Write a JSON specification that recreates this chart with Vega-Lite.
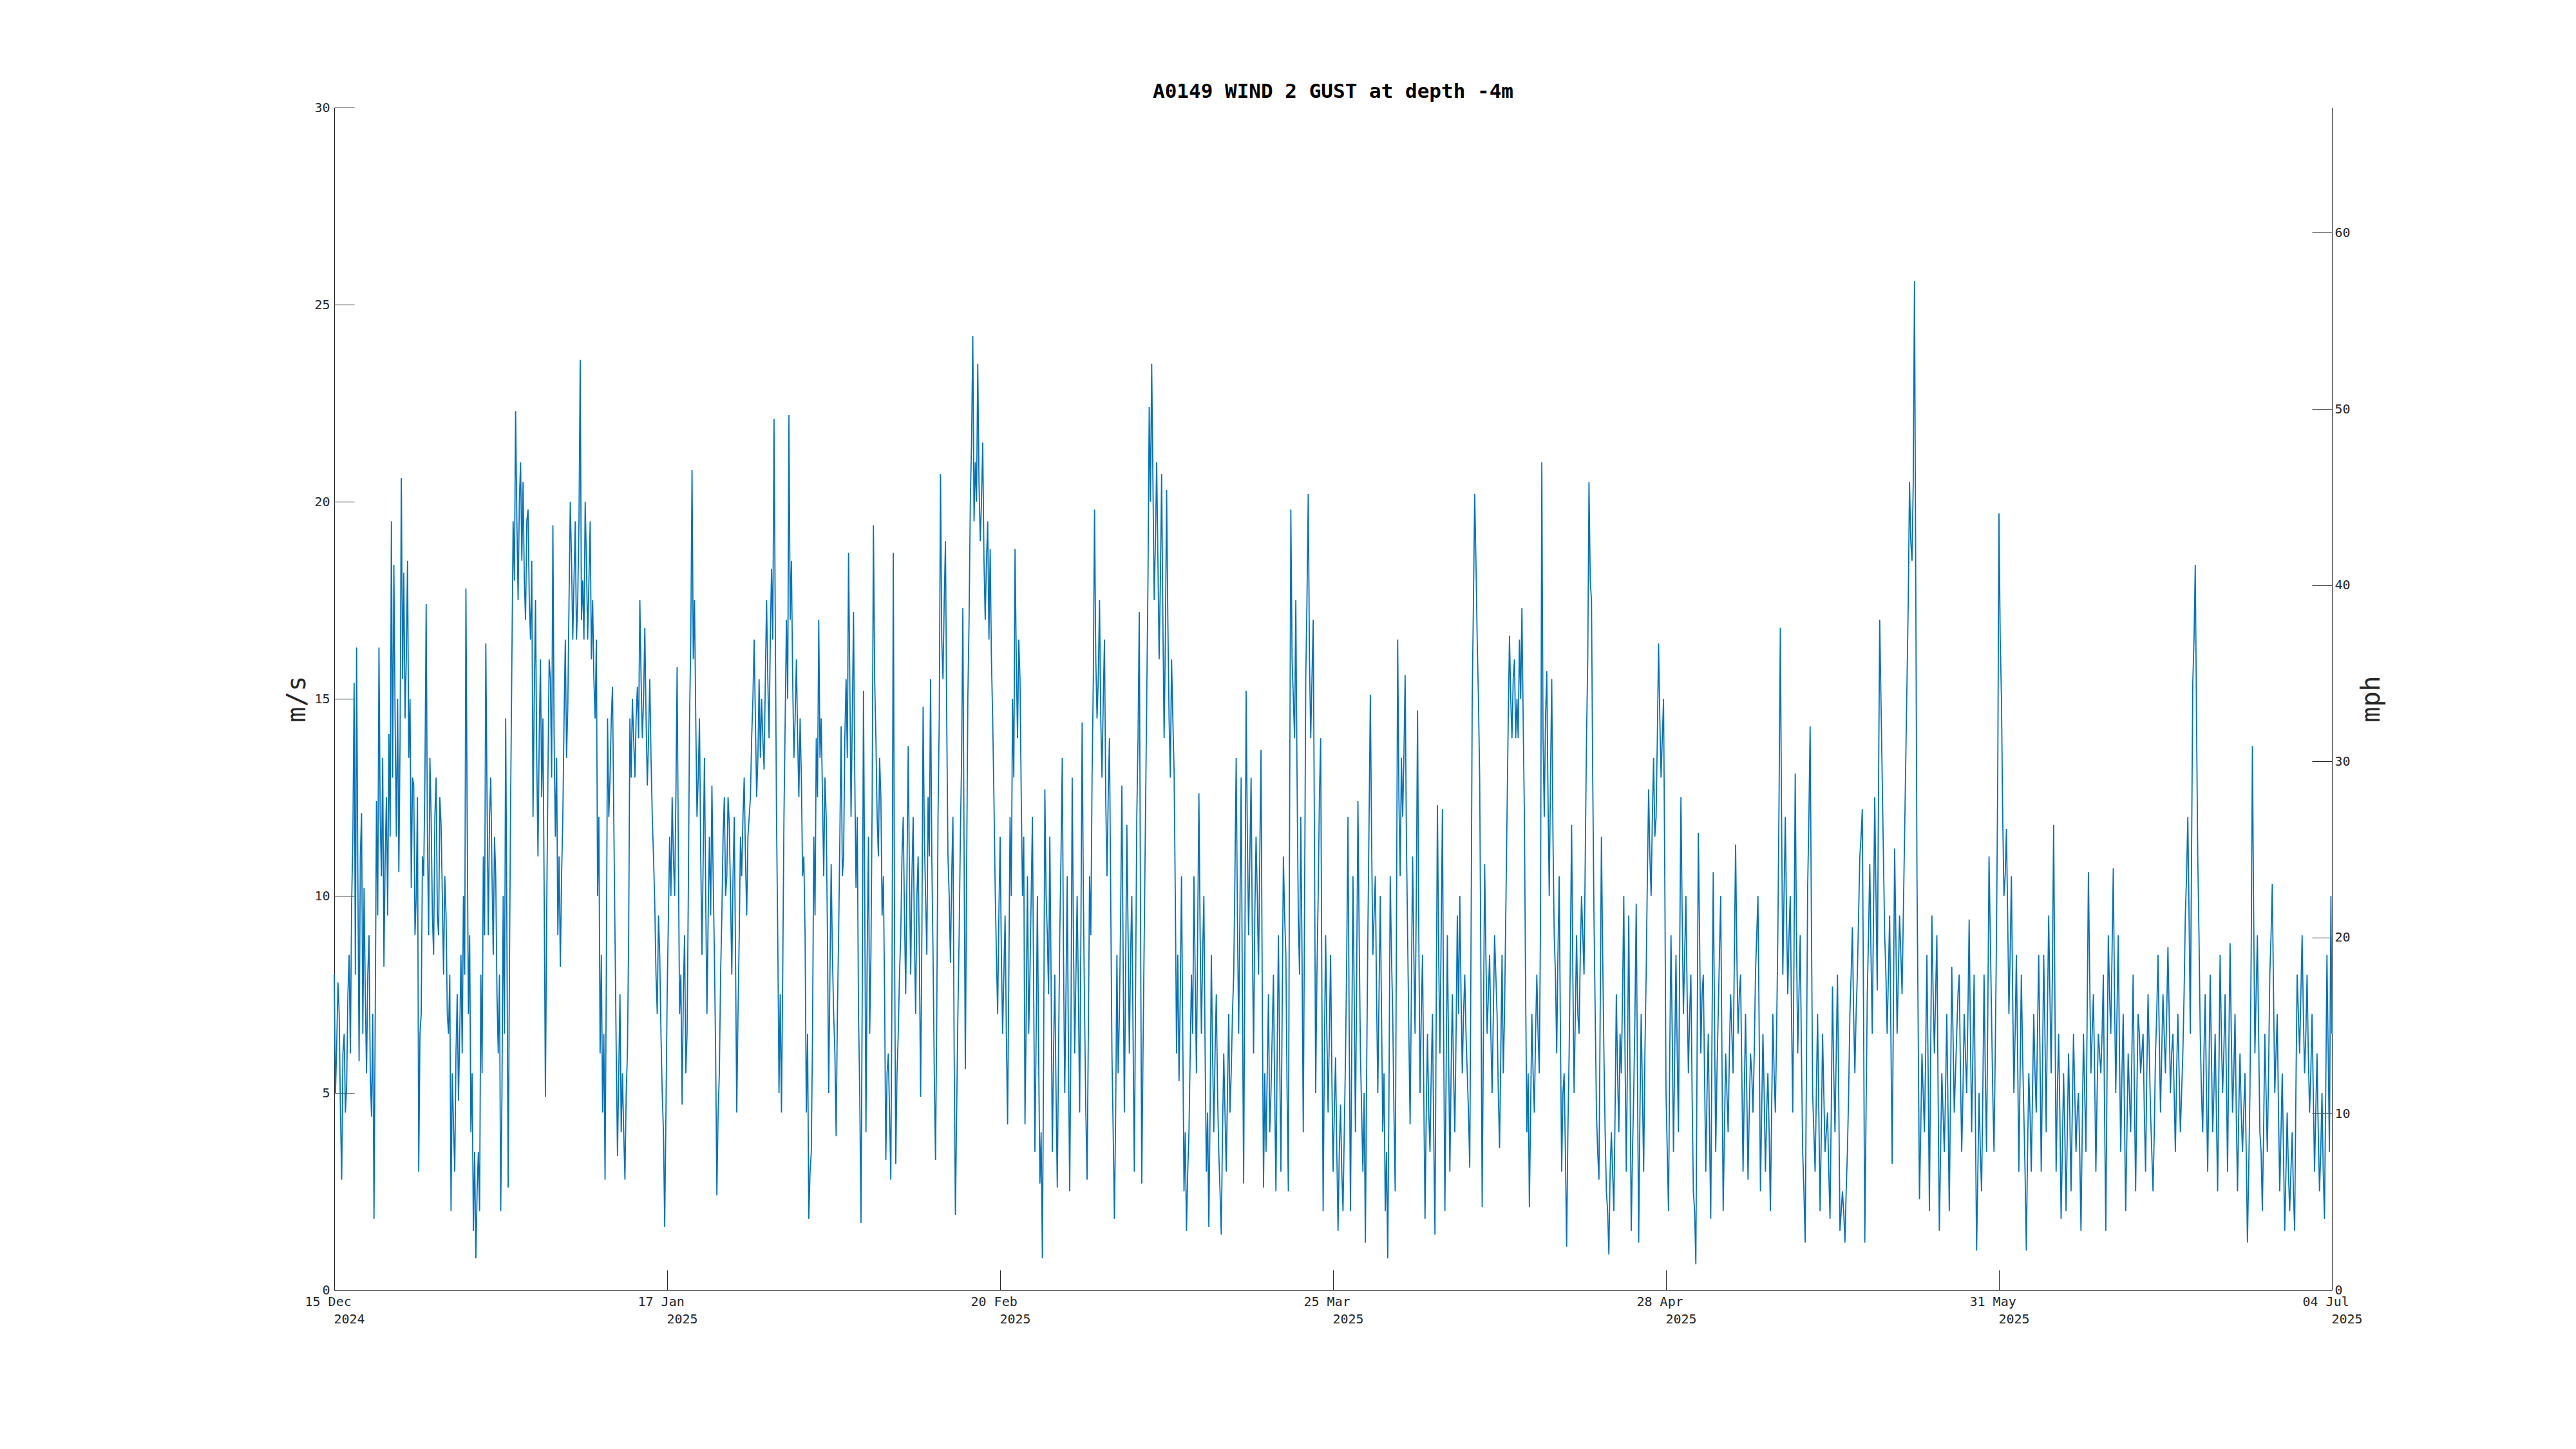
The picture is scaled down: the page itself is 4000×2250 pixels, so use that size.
{
"$schema":"https://vega.github.io/schema/vega-lite/v6.json",
"width":3102,"height":1836,
"autosize":{"type":"none"},
"padding":{"left":519,"top":167,"right":379,"bottom":247},
"background":"white",
"title":{"text":"A0149 WIND 2 GUST at depth -4m","font":"DejaVu Sans Mono","fontSize":31,"fontWeight":"bold","color":"#000000","anchor":"middle","frame":"group","baseline":"alphabetic","offset":15,"dy":41},
"config":{"view":{"stroke":null},"axis":{"grid":false,"domainColor":"#262626","tickColor":"#262626","labelColor":"#262626","titleColor":"#262626","labelFont":"DejaVu Sans Mono","titleFont":"DejaVu Sans Mono","labelFontSize":20,"titleFontSize":40,"titleFontWeight":"normal","domainWidth":1,"tickWidth":1,"tickSize":-31,"labelFlush":false,"labelOverlap":false}},
"resolve":{"scale":{"y":"independent"}},
"layer":[
{"data":{"values":[
{"d":0,"v":8},{"d":0.25,"v":6.2},{"d":0.5,"v":7},{"d":0.75,"v":2.8},
{"d":1,"v":6.5},{"d":1.25,"v":5.2},{"d":1.5,"v":8.5},{"d":1.75,"v":9.8},
{"d":2,"v":15.4},{"d":2.25,"v":16.3},{"d":2.5,"v":5.8},{"d":2.75,"v":12.1},
{"d":3,"v":10.2},{"d":3.25,"v":5.5},{"d":3.5,"v":9},{"d":3.75,"v":4.4},
{"d":4,"v":1.8},{"d":4.25,"v":12.4},{"d":4.5,"v":16.3},{"d":4.75,"v":10.5},
{"d":5,"v":8.2},{"d":5.25,"v":12.5},{"d":5.5,"v":14.1},{"d":5.75,"v":19.5},
{"d":6,"v":18.4},{"d":6.25,"v":11.5},{"d":6.5,"v":10.6},{"d":6.75,"v":20.6},
{"d":7,"v":18.2},{"d":7.25,"v":16},{"d":7.5,"v":13.5},{"d":7.75,"v":10.2},
{"d":8,"v":12.8},{"d":8.25,"v":10},{"d":8.5,"v":3},{"d":8.75,"v":7},
{"d":9,"v":10.5},{"d":9.25,"v":17.4},{"d":9.5,"v":9},{"d":9.75,"v":12},
{"d":10,"v":8.5},{"d":10.25,"v":13},{"d":10.5,"v":9},{"d":10.75,"v":11.8},
{"d":11,"v":8},{"d":11.25,"v":9.5},{"d":11.5,"v":6.5},{"d":11.75,"v":2},
{"d":12,"v":4.2},{"d":12.25,"v":6},{"d":12.5,"v":4.8},{"d":12.75,"v":8.5},
{"d":13,"v":10},{"d":13.25,"v":17.8},{"d":13.5,"v":7},{"d":13.75,"v":4},
{"d":14,"v":1.5},{"d":14.25,"v":0.8},{"d":14.5,"v":3.5},{"d":14.75,"v":8},
{"d":15,"v":11},{"d":15.25,"v":16.4},{"d":15.5,"v":9},{"d":15.75,"v":13},
{"d":16,"v":8.5},{"d":16.25,"v":10.5},{"d":16.5,"v":6},{"d":16.75,"v":2},
{"d":17,"v":10},{"d":17.25,"v":14.5},{"d":17.5,"v":2.6},{"d":17.75,"v":12.5},
{"d":18,"v":19.5},{"d":18.25,"v":22.3},{"d":18.5,"v":17.5},{"d":18.75,"v":21},
{"d":19,"v":20.5},{"d":19.25,"v":17},{"d":19.5,"v":19.8},{"d":19.75,"v":16.5},
{"d":20,"v":12},{"d":20.25,"v":17.5},{"d":20.5,"v":11},{"d":20.75,"v":16},
{"d":21,"v":14.5},{"d":21.25,"v":4.9},{"d":21.5,"v":13},{"d":21.75,"v":15.5},
{"d":22,"v":19.4},{"d":22.25,"v":11.5},{"d":22.5,"v":9},{"d":22.75,"v":8.2},
{"d":23,"v":12},{"d":23.25,"v":16.5},{"d":23.5,"v":14.8},{"d":23.75,"v":20},
{"d":24,"v":16.5},{"d":24.25,"v":19.5},{"d":24.5,"v":17.5},{"d":24.75,"v":23.6},
{"d":25,"v":18},{"d":25.25,"v":20},{"d":25.5,"v":16.5},{"d":25.75,"v":19.5},
{"d":26,"v":17.5},{"d":26.25,"v":14.5},{"d":26.5,"v":10},{"d":26.75,"v":6},
{"d":27,"v":4.5},{"d":27.25,"v":2.8},{"d":27.5,"v":14.5},{"d":27.75,"v":13},
{"d":28,"v":15.3},{"d":28.25,"v":9},{"d":28.5,"v":3.4},{"d":28.75,"v":7.5},
{"d":29,"v":5.5},{"d":29.25,"v":2.8},{"d":29.5,"v":6},{"d":29.75,"v":14.5},
{"d":30,"v":15},{"d":30.25,"v":13},{"d":30.5,"v":15.3},{"d":30.75,"v":17.5},
{"d":31,"v":14},{"d":31.25,"v":16.8},{"d":31.5,"v":12.8},{"d":31.75,"v":15.5},
{"d":32,"v":12},{"d":32.25,"v":9.8},{"d":32.5,"v":7},{"d":32.75,"v":8.5},
{"d":33,"v":5},{"d":33.25,"v":1.6},{"d":33.5,"v":7.5},{"d":33.75,"v":11.5},
{"d":34,"v":12.5},{"d":34.25,"v":10},{"d":34.5,"v":15.8},{"d":34.75,"v":7},
{"d":35,"v":4.7},{"d":35.25,"v":9},{"d":35.5,"v":6.5},{"d":35.75,"v":14.5},
{"d":36,"v":20.8},{"d":36.25,"v":17.5},{"d":36.5,"v":12},{"d":36.75,"v":14.5},
{"d":37,"v":8.5},{"d":37.25,"v":13.5},{"d":37.5,"v":7},{"d":37.75,"v":11.5},
{"d":38,"v":12.8},{"d":38.25,"v":8.5},{"d":38.5,"v":2.4},{"d":38.75,"v":5.5},
{"d":39,"v":9.5},{"d":39.25,"v":12.5},{"d":39.5,"v":10.5},{"d":39.75,"v":11.8},
{"d":40,"v":8},{"d":40.25,"v":12},{"d":40.5,"v":4.5},{"d":40.75,"v":9},
{"d":41,"v":10.5},{"d":41.25,"v":13},{"d":41.5,"v":9.5},{"d":41.75,"v":12},
{"d":42,"v":14},{"d":42.25,"v":16.5},{"d":42.5,"v":12.5},{"d":42.75,"v":15.5},
{"d":43,"v":15},{"d":43.25,"v":13.2},{"d":43.5,"v":17.5},{"d":43.75,"v":14},
{"d":44,"v":18.3},{"d":44.25,"v":22.1},{"d":44.5,"v":12},{"d":44.75,"v":5},
{"d":45,"v":4.5},{"d":45.25,"v":12},{"d":45.5,"v":17},{"d":45.75,"v":22.2},
{"d":46,"v":18.5},{"d":46.25,"v":13.5},{"d":46.5,"v":16},{"d":46.75,"v":12.5},
{"d":47,"v":13},{"d":47.25,"v":11},{"d":47.5,"v":4.5},{"d":47.75,"v":1.8},
{"d":48,"v":3.5},{"d":48.25,"v":11.5},{"d":48.5,"v":14},{"d":48.75,"v":17},
{"d":49,"v":14.5},{"d":49.25,"v":10.5},{"d":49.5,"v":12},{"d":49.75,"v":5},
{"d":50,"v":10.8},{"d":50.25,"v":7},{"d":50.5,"v":3.9},{"d":50.75,"v":9},
{"d":51,"v":14.3},{"d":51.25,"v":11},{"d":51.5,"v":15.5},{"d":51.75,"v":18.7},
{"d":52,"v":12},{"d":52.25,"v":17.2},{"d":52.5,"v":10.2},{"d":52.75,"v":7},
{"d":53,"v":1.7},{"d":53.25,"v":15.2},{"d":53.5,"v":4},{"d":53.75,"v":11.5},
{"d":54,"v":8.5},{"d":54.25,"v":19.4},{"d":54.5,"v":14},{"d":54.75,"v":11},
{"d":55,"v":12.5},{"d":55.25,"v":10.5},{"d":55.5,"v":3.3},{"d":55.75,"v":6},
{"d":56,"v":2.8},{"d":56.25,"v":18.7},{"d":56.5,"v":3.2},{"d":56.75,"v":6.5},
{"d":57,"v":9},{"d":57.25,"v":12},{"d":57.5,"v":7.5},{"d":57.75,"v":13.8},
{"d":58,"v":8},{"d":58.25,"v":12},{"d":58.5,"v":7},{"d":58.75,"v":11},
{"d":59,"v":4.9},{"d":59.25,"v":14.8},{"d":59.5,"v":10},{"d":59.75,"v":12.5},
{"d":60,"v":15.5},{"d":60.25,"v":8.5},{"d":60.5,"v":3.3},{"d":60.75,"v":12},
{"d":61,"v":20.7},{"d":61.25,"v":15.5},{"d":61.5,"v":19},{"d":61.75,"v":11},
{"d":62,"v":8.3},{"d":62.25,"v":12},{"d":62.5,"v":1.9},{"d":62.75,"v":7},
{"d":63,"v":11.5},{"d":63.25,"v":17.3},{"d":63.5,"v":5.6},{"d":63.75,"v":15},
{"d":64,"v":20},{"d":64.25,"v":24.2},{"d":64.5,"v":21},{"d":64.75,"v":23.5},
{"d":65,"v":19},{"d":65.25,"v":21.5},{"d":65.5,"v":17},{"d":65.75,"v":19.5},
{"d":66,"v":18.8},{"d":66.25,"v":14.5},{"d":66.5,"v":10.2},{"d":66.75,"v":7},
{"d":67,"v":11.5},{"d":67.25,"v":6.5},{"d":67.5,"v":9.5},{"d":67.75,"v":4.2},
{"d":68,"v":12},{"d":68.25,"v":15},{"d":68.5,"v":18.8},{"d":68.75,"v":14},
{"d":69,"v":15.5},{"d":69.25,"v":10},{"d":69.5,"v":4.2},{"d":69.75,"v":10.5},
{"d":70,"v":8},{"d":70.25,"v":12},{"d":70.5,"v":3.5},{"d":70.75,"v":10},
{"d":71,"v":2.7},{"d":71.25,"v":0.8},{"d":71.5,"v":12.7},{"d":71.75,"v":9},
{"d":72,"v":11.5},{"d":72.25,"v":3.5},{"d":72.5,"v":8},{"d":72.75,"v":2.6},
{"d":73,"v":9},{"d":73.25,"v":13.5},{"d":73.5,"v":5},{"d":73.75,"v":10.5},
{"d":74,"v":2.5},{"d":74.25,"v":13},{"d":74.5,"v":6},{"d":74.75,"v":10},
{"d":75,"v":4.5},{"d":75.25,"v":14.4},{"d":75.5,"v":7},{"d":75.75,"v":2.8},
{"d":76,"v":10.5},{"d":76.25,"v":13},{"d":76.5,"v":19.8},{"d":76.75,"v":14.5},
{"d":77,"v":17.5},{"d":77.25,"v":13},{"d":77.5,"v":16.5},{"d":77.75,"v":10.5},
{"d":78,"v":14},{"d":78.25,"v":6},{"d":78.5,"v":1.8},{"d":78.75,"v":8.5},
{"d":79,"v":7},{"d":79.25,"v":12.8},{"d":79.5,"v":4.5},{"d":79.75,"v":11.8},
{"d":80,"v":6},{"d":80.25,"v":10},{"d":80.5,"v":3},{"d":80.75,"v":12},
{"d":81,"v":17.2},{"d":81.25,"v":2.7},{"d":81.5,"v":9},{"d":81.75,"v":15},
{"d":82,"v":22.4},{"d":82.25,"v":23.5},{"d":82.5,"v":17.5},{"d":82.75,"v":21},
{"d":83,"v":16},{"d":83.25,"v":20.7},{"d":83.5,"v":14},{"d":83.75,"v":20.3},
{"d":84,"v":14.5},{"d":84.25,"v":16},{"d":84.5,"v":13.2},{"d":84.75,"v":6},
{"d":85,"v":5.3},{"d":85.25,"v":10.5},{"d":85.5,"v":2.5},{"d":85.75,"v":1.5},
{"d":86,"v":4},{"d":86.25,"v":8},{"d":86.5,"v":10.5},{"d":86.75,"v":5.5},
{"d":87,"v":12.6},{"d":87.25,"v":6.5},{"d":87.5,"v":10},{"d":87.75,"v":3},
{"d":88,"v":1.6},{"d":88.25,"v":8.5},{"d":88.5,"v":4},{"d":88.75,"v":7.5},
{"d":89,"v":3.5},{"d":89.25,"v":1.4},{"d":89.5,"v":6},{"d":89.75,"v":3},
{"d":90,"v":7},{"d":90.25,"v":5.5},{"d":90.5,"v":8},{"d":90.75,"v":13.5},
{"d":91,"v":6.5},{"d":91.25,"v":13},{"d":91.5,"v":2.7},{"d":91.75,"v":15.2},
{"d":92,"v":9},{"d":92.25,"v":13},{"d":92.5,"v":6},{"d":92.75,"v":11.5},
{"d":93,"v":8},{"d":93.25,"v":13.7},{"d":93.5,"v":2.6},{"d":93.75,"v":3.5},
{"d":94,"v":7.5},{"d":94.25,"v":5},{"d":94.5,"v":8},{"d":94.75,"v":2.5},
{"d":95,"v":9},{"d":95.25,"v":3},{"d":95.5,"v":11},{"d":95.75,"v":8.5},
{"d":96,"v":2.5},{"d":96.25,"v":19.8},{"d":96.5,"v":15},{"d":96.75,"v":17.5},
{"d":97,"v":9.5},{"d":97.25,"v":12},{"d":97.5,"v":4},{"d":97.75,"v":15.5},
{"d":98,"v":20.2},{"d":98.25,"v":14},{"d":98.5,"v":17},{"d":98.75,"v":5},
{"d":99,"v":10},{"d":99.25,"v":14},{"d":99.5,"v":2},{"d":99.75,"v":9},
{"d":100,"v":4.5},{"d":100.25,"v":8.5},{"d":100.5,"v":3},{"d":100.75,"v":5.9},
{"d":101,"v":1.5},{"d":101.25,"v":4.7},{"d":101.5,"v":2},{"d":101.75,"v":5.9},
{"d":102,"v":12},{"d":102.25,"v":2},{"d":102.5,"v":10.5},{"d":102.75,"v":4},
{"d":103,"v":12.4},{"d":103.25,"v":6},{"d":103.5,"v":3},{"d":103.75,"v":1.2},
{"d":104,"v":9},{"d":104.25,"v":15.1},{"d":104.5,"v":8.5},{"d":104.75,"v":10.5},
{"d":105,"v":5},{"d":105.25,"v":10},{"d":105.5,"v":4},{"d":105.75,"v":2},
{"d":106,"v":0.8},{"d":106.25,"v":10.5},{"d":106.5,"v":7},{"d":106.75,"v":2.5},
{"d":107,"v":16.5},{"d":107.25,"v":10.5},{"d":107.5,"v":12},{"d":107.75,"v":15.6},
{"d":108,"v":9},{"d":108.25,"v":4.2},{"d":108.5,"v":11},{"d":108.75,"v":6.5},
{"d":109,"v":14.7},{"d":109.25,"v":5},{"d":109.5,"v":8.5},{"d":109.75,"v":1.8},
{"d":110,"v":6.5},{"d":110.25,"v":3.5},{"d":110.5,"v":7},{"d":110.75,"v":1.4},
{"d":111,"v":12.3},{"d":111.25,"v":6},{"d":111.5,"v":12.2},{"d":111.75,"v":2},
{"d":112,"v":9},{"d":112.25,"v":3},{"d":112.5,"v":7.5},{"d":112.75,"v":4},
{"d":113,"v":9.5},{"d":113.25,"v":10},{"d":113.5,"v":5.5},{"d":113.75,"v":8},
{"d":114,"v":5.5},{"d":114.25,"v":3.1},{"d":114.5,"v":15},{"d":114.75,"v":20.2},
{"d":115,"v":16.5},{"d":115.25,"v":13},{"d":115.5,"v":2.1},{"d":115.75,"v":10.8},
{"d":116,"v":6.5},{"d":116.25,"v":8.5},{"d":116.5,"v":5},{"d":116.75,"v":9},
{"d":117,"v":7},{"d":117.25,"v":3.6},{"d":117.5,"v":8.5},{"d":117.75,"v":7},
{"d":118,"v":12},{"d":118.25,"v":16.6},{"d":118.5,"v":14},{"d":118.75,"v":16},
{"d":119,"v":15},{"d":119.25,"v":16.5},{"d":119.5,"v":17.3},{"d":119.75,"v":12},
{"d":120,"v":4},{"d":120.25,"v":2.1},{"d":120.5,"v":7},{"d":120.75,"v":4.5},
{"d":121,"v":8},{"d":121.25,"v":5.5},{"d":121.5,"v":21},{"d":121.75,"v":12},
{"d":122,"v":15.7},{"d":122.25,"v":10},{"d":122.5,"v":15.5},{"d":122.75,"v":9},
{"d":123,"v":6},{"d":123.25,"v":10.5},{"d":123.5,"v":3},{"d":123.75,"v":5.5},
{"d":124,"v":1.1},{"d":124.25,"v":6},{"d":124.5,"v":11.8},{"d":124.75,"v":5},
{"d":125,"v":9},{"d":125.25,"v":6.5},{"d":125.5,"v":10},{"d":125.75,"v":8},
{"d":126,"v":14},{"d":126.25,"v":20.5},{"d":126.5,"v":17.5},{"d":126.75,"v":9.5},
{"d":127,"v":4.5},{"d":127.25,"v":2.8},{"d":127.5,"v":11.5},{"d":127.75,"v":6},
{"d":128,"v":2.5},{"d":128.25,"v":0.9},{"d":128.5,"v":4},{"d":128.75,"v":2},
{"d":129,"v":7.5},{"d":129.25,"v":4},{"d":129.5,"v":5.5},{"d":129.75,"v":10},
{"d":130,"v":3},{"d":130.25,"v":9.5},{"d":130.5,"v":1.5},{"d":130.75,"v":5},
{"d":131,"v":9.8},{"d":131.25,"v":1.2},{"d":131.5,"v":7},{"d":131.75,"v":3},
{"d":132,"v":8},{"d":132.25,"v":12.7},{"d":132.5,"v":10},{"d":132.75,"v":13.5},
{"d":133,"v":12},{"d":133.25,"v":16.4},{"d":133.5,"v":13},{"d":133.75,"v":15},
{"d":134,"v":5},{"d":134.25,"v":2},{"d":134.5,"v":9},{"d":134.75,"v":3.5},
{"d":135,"v":8.5},{"d":135.25,"v":4},{"d":135.5,"v":12.5},{"d":135.75,"v":7},
{"d":136,"v":10},{"d":136.25,"v":5.5},{"d":136.5,"v":8},{"d":136.75,"v":2.5},
{"d":137,"v":0.65},{"d":137.25,"v":11.6},{"d":137.5,"v":6},{"d":137.75,"v":8},
{"d":138,"v":3},{"d":138.25,"v":6.5},{"d":138.5,"v":1.8},{"d":138.75,"v":10.6},
{"d":139,"v":3.5},{"d":139.25,"v":7},{"d":139.5,"v":10},{"d":139.75,"v":2},
{"d":140,"v":6},{"d":140.25,"v":4},{"d":140.5,"v":7.5},{"d":140.75,"v":5.5},
{"d":141,"v":11.3},{"d":141.25,"v":6.5},{"d":141.5,"v":8},{"d":141.75,"v":3},
{"d":142,"v":7},{"d":142.25,"v":2.8},{"d":142.5,"v":6},{"d":142.75,"v":4.5},
{"d":143,"v":8},{"d":143.25,"v":10},{"d":143.5,"v":2.5},{"d":143.75,"v":6.5},
{"d":144,"v":3},{"d":144.25,"v":5.5},{"d":144.5,"v":2},{"d":144.75,"v":7},
{"d":145,"v":4.5},{"d":145.25,"v":9},{"d":145.5,"v":16.8},{"d":145.75,"v":8},
{"d":146,"v":12},{"d":146.25,"v":7.5},{"d":146.5,"v":10},{"d":146.75,"v":4.5},
{"d":147,"v":13.1},{"d":147.25,"v":6},{"d":147.5,"v":9},{"d":147.75,"v":3.5},
{"d":148,"v":1.2},{"d":148.25,"v":10.2},{"d":148.5,"v":14.3},{"d":148.75,"v":5},
{"d":149,"v":3},{"d":149.25,"v":7},{"d":149.5,"v":2},{"d":149.75,"v":6.5},
{"d":150,"v":3.5},{"d":150.25,"v":4.5},{"d":150.5,"v":1.8},{"d":150.75,"v":7.7},
{"d":151,"v":4},{"d":151.25,"v":8},{"d":151.5,"v":1.5},{"d":151.75,"v":2.5},
{"d":152,"v":1.2},{"d":152.25,"v":3.5},{"d":152.5,"v":7},{"d":152.75,"v":9.2},
{"d":153,"v":5.5},{"d":153.25,"v":8},{"d":153.5,"v":11},{"d":153.75,"v":12.2},
{"d":154,"v":1.2},{"d":154.25,"v":7.5},{"d":154.5,"v":10.8},{"d":154.75,"v":6.5},
{"d":155,"v":12.5},{"d":155.25,"v":7.6},{"d":155.5,"v":17},{"d":155.75,"v":13},
{"d":156,"v":9},{"d":156.25,"v":6.5},{"d":156.5,"v":9.5},{"d":156.75,"v":3.2},
{"d":157,"v":11.2},{"d":157.25,"v":6.5},{"d":157.5,"v":9.5},{"d":157.75,"v":7.5},
{"d":158,"v":11.5},{"d":158.25,"v":15.5},{"d":158.5,"v":20.5},{"d":158.75,"v":18.5},
{"d":159,"v":25.6},{"d":159.25,"v":10.5},{"d":159.5,"v":2.3},{"d":159.75,"v":6},
{"d":160,"v":4},{"d":160.25,"v":8.5},{"d":160.5,"v":2},{"d":160.75,"v":9.5},
{"d":161,"v":6},{"d":161.25,"v":9},{"d":161.5,"v":1.5},{"d":161.75,"v":5.5},
{"d":162,"v":3.5},{"d":162.25,"v":7},{"d":162.5,"v":2},{"d":162.75,"v":8.2},
{"d":163,"v":4.5},{"d":163.25,"v":6.5},{"d":163.5,"v":8},{"d":163.75,"v":3.5},
{"d":164,"v":7},{"d":164.25,"v":5},{"d":164.5,"v":9.4},{"d":164.75,"v":4},
{"d":165,"v":8},{"d":165.25,"v":1},{"d":165.5,"v":5},{"d":165.75,"v":2.5},
{"d":166,"v":8},{"d":166.25,"v":3.5},{"d":166.5,"v":11},{"d":166.75,"v":7},
{"d":167,"v":3.5},{"d":167.25,"v":9},{"d":167.5,"v":19.7},{"d":167.75,"v":15},
{"d":168,"v":10},{"d":168.25,"v":11.7},{"d":168.5,"v":7},{"d":168.75,"v":10.5},
{"d":169,"v":5},{"d":169.25,"v":8.5},{"d":169.5,"v":3},{"d":169.75,"v":8},
{"d":170,"v":4.5},{"d":170.25,"v":1},{"d":170.5,"v":5.5},{"d":170.75,"v":3},
{"d":171,"v":7},{"d":171.25,"v":4.5},{"d":171.5,"v":8.5},{"d":171.75,"v":3},
{"d":172,"v":8.5},{"d":172.25,"v":4},{"d":172.5,"v":9.5},{"d":172.75,"v":5.5},
{"d":173,"v":11.8},{"d":173.25,"v":3},{"d":173.5,"v":6.5},{"d":173.75,"v":1.8},
{"d":174,"v":5.5},{"d":174.25,"v":2},{"d":174.5,"v":6},{"d":174.75,"v":2.5},
{"d":175,"v":6.5},{"d":175.25,"v":3.5},{"d":175.5,"v":5},{"d":175.75,"v":1.5},
{"d":176,"v":6.5},{"d":176.25,"v":3.5},{"d":176.5,"v":10.6},{"d":176.75,"v":5.5},
{"d":177,"v":7.5},{"d":177.25,"v":3},{"d":177.5,"v":6.5},{"d":177.75,"v":5.5},
{"d":178,"v":8},{"d":178.25,"v":1.5},{"d":178.5,"v":9},{"d":178.75,"v":6.5},
{"d":179,"v":10.7},{"d":179.25,"v":5},{"d":179.5,"v":9},{"d":179.75,"v":3.5},
{"d":180,"v":7},{"d":180.25,"v":2},{"d":180.5,"v":6},{"d":180.75,"v":4},
{"d":181,"v":8},{"d":181.25,"v":2.5},{"d":181.5,"v":7},{"d":181.75,"v":5.5},
{"d":182,"v":6.5},{"d":182.25,"v":3},{"d":182.5,"v":7.5},{"d":182.75,"v":4.5},
{"d":183,"v":2.5},{"d":183.25,"v":6},{"d":183.5,"v":8.5},{"d":183.75,"v":4.5},
{"d":184,"v":7.5},{"d":184.25,"v":5.5},{"d":184.5,"v":8.7},{"d":184.75,"v":5},
{"d":185,"v":6.5},{"d":185.25,"v":3.5},{"d":185.5,"v":7},{"d":185.75,"v":4},
{"d":186,"v":6},{"d":186.25,"v":9.5},{"d":186.5,"v":12},{"d":186.75,"v":6.5},
{"d":187,"v":15.4},{"d":187.25,"v":18.4},{"d":187.5,"v":11},{"d":187.75,"v":6.5},
{"d":188,"v":4},{"d":188.25,"v":7.5},{"d":188.5,"v":3},{"d":188.75,"v":8},
{"d":189,"v":4},{"d":189.25,"v":6.5},{"d":189.5,"v":2.5},{"d":189.75,"v":8.5},
{"d":190,"v":5},{"d":190.25,"v":7.5},{"d":190.5,"v":3},{"d":190.75,"v":8.8},
{"d":191,"v":4.5},{"d":191.25,"v":7},{"d":191.5,"v":2.5},{"d":191.75,"v":6},
{"d":192,"v":3.5},{"d":192.25,"v":5.5},{"d":192.5,"v":1.2},{"d":192.75,"v":5},
{"d":193,"v":13.8},{"d":193.25,"v":6},{"d":193.5,"v":9},{"d":193.75,"v":4},
{"d":194,"v":2},{"d":194.25,"v":6.5},{"d":194.5,"v":3.5},{"d":194.75,"v":8},
{"d":195,"v":10.3},{"d":195.25,"v":5},{"d":195.5,"v":7},{"d":195.75,"v":2.5},
{"d":196,"v":5.5},{"d":196.25,"v":1.5},{"d":196.5,"v":4.5},{"d":196.75,"v":2},
{"d":197,"v":4},{"d":197.25,"v":1.5},{"d":197.5,"v":8},{"d":197.75,"v":6},
{"d":198,"v":9},{"d":198.25,"v":5.5},{"d":198.5,"v":8},{"d":198.75,"v":4.5},
{"d":199,"v":7},{"d":199.25,"v":3},{"d":199.5,"v":6},{"d":199.75,"v":2.5},
{"d":200,"v":5},{"d":200.25,"v":1.8},{"d":200.5,"v":8.5},{"d":200.75,"v":3.5},
{"d":200.9,"v":10},{"d":201,"v":6.5},
{"d":0.125,"v":5},{"d":0.375,"v":7.8},{"d":0.625,"v":4.5},{"d":0.875,"v":6},
{"d":1.125,"v":4.5},{"d":1.375,"v":7.5},{"d":1.625,"v":6},{"d":1.875,"v":11.5},
{"d":2.125,"v":8},{"d":2.375,"v":10.5},{"d":2.625,"v":11},{"d":2.875,"v":6.5},
{"d":3.125,"v":7.5},{"d":3.375,"v":8},{"d":3.625,"v":5.5},{"d":3.875,"v":7},
{"d":4.125,"v":7},{"d":4.375,"v":9.5},{"d":4.625,"v":12},{"d":4.875,"v":13.5},
{"d":5.125,"v":11},{"d":5.375,"v":9.5},{"d":5.625,"v":11.5},{"d":5.875,"v":13},
{"d":6.125,"v":14.5},{"d":6.375,"v":15},{"d":6.625,"v":14},{"d":6.875,"v":15.5},
{"d":7.125,"v":14.5},{"d":7.375,"v":18.5},{"d":7.625,"v":15},{"d":7.875,"v":13},
{"d":8.125,"v":9},{"d":8.375,"v":12.5},{"d":8.625,"v":6.5},{"d":8.875,"v":11},
{"d":9.125,"v":13},{"d":9.375,"v":11.5},{"d":9.625,"v":13.5},{"d":9.875,"v":9.5},
{"d":10.125,"v":12},{"d":10.375,"v":9.5},{"d":10.625,"v":12.5},{"d":10.875,"v":10},
{"d":11.125,"v":10.5},{"d":11.375,"v":7},{"d":11.625,"v":8},{"d":11.875,"v":5.5},
{"d":12.125,"v":3},{"d":12.375,"v":7.5},{"d":12.625,"v":6.5},{"d":12.875,"v":6},
{"d":13.125,"v":8},{"d":13.375,"v":12},{"d":13.625,"v":9},{"d":13.875,"v":5.5},
{"d":14.125,"v":3.5},{"d":14.375,"v":2.5},{"d":14.625,"v":2},{"d":14.875,"v":5.5},
{"d":15.125,"v":9},{"d":15.375,"v":12.5},{"d":15.625,"v":12},{"d":15.875,"v":10.5},
{"d":16.125,"v":11.5},{"d":16.375,"v":7.5},{"d":16.625,"v":8},{"d":16.875,"v":5},
{"d":17.125,"v":6.5},{"d":17.375,"v":9},{"d":17.625,"v":8},{"d":17.875,"v":16},
{"d":18.125,"v":18},{"d":18.375,"v":19.5},{"d":18.625,"v":20},{"d":18.875,"v":18.5},
{"d":19.125,"v":18},{"d":19.375,"v":19.5},{"d":19.625,"v":17.5},{"d":19.875,"v":18.5},
{"d":20.125,"v":15},{"d":20.375,"v":13.5},{"d":20.625,"v":14},{"d":20.875,"v":12.5},
{"d":21.125,"v":10},{"d":21.375,"v":9.5},{"d":21.625,"v":16},{"d":21.875,"v":13},
{"d":22.125,"v":14},{"d":22.375,"v":13.5},{"d":22.625,"v":11},{"d":22.875,"v":10.5},
{"d":23.125,"v":14.5},{"d":23.375,"v":13.5},{"d":23.625,"v":17.5},{"d":23.875,"v":18.5},
{"d":24.125,"v":18},{"d":24.375,"v":16.5},{"d":24.625,"v":19.5},{"d":24.875,"v":17},
{"d":25.125,"v":16.5},{"d":25.375,"v":18.5},{"d":25.625,"v":18},{"d":25.875,"v":16},
{"d":26.125,"v":15.5},{"d":26.375,"v":16.5},{"d":26.625,"v":12},{"d":26.875,"v":8.5},
{"d":27.125,"v":6.5},{"d":27.375,"v":8},{"d":27.625,"v":12},{"d":27.875,"v":14.5},
{"d":28.125,"v":12},{"d":28.375,"v":6},{"d":28.625,"v":5.5},{"d":28.875,"v":4},
{"d":29.125,"v":4},{"d":29.375,"v":5},{"d":29.625,"v":9},{"d":29.875,"v":13},
{"d":30.125,"v":14},{"d":30.375,"v":14.5},{"d":30.625,"v":14},{"d":30.875,"v":15.5},
{"d":31.125,"v":15},{"d":31.375,"v":14.5},{"d":31.625,"v":14},{"d":31.875,"v":13.5},
{"d":32.125,"v":11},{"d":32.375,"v":8},{"d":32.625,"v":9.5},{"d":32.875,"v":6.5},
{"d":33.125,"v":4},{"d":33.375,"v":4.5},{"d":33.625,"v":9.5},{"d":33.875,"v":10},
{"d":34.125,"v":11},{"d":34.375,"v":12.5},{"d":34.625,"v":11},{"d":34.875,"v":8},
{"d":35.125,"v":7.5},{"d":35.375,"v":5.5},{"d":35.625,"v":10},{"d":35.875,"v":16.5},
{"d":36.125,"v":16},{"d":36.375,"v":14.5},{"d":36.625,"v":13},{"d":36.875,"v":11},
{"d":37.125,"v":11},{"d":37.375,"v":10},{"d":37.625,"v":9.5},{"d":37.875,"v":9.5},
{"d":38.125,"v":10.5},{"d":38.375,"v":6},{"d":38.625,"v":4.5},{"d":38.875,"v":8},
{"d":39.125,"v":11.5},{"d":39.375,"v":10},{"d":39.625,"v":12.5},{"d":39.875,"v":10},
{"d":40.125,"v":10.5},{"d":40.375,"v":8.5},{"d":40.625,"v":7},{"d":40.875,"v":11.5},
{"d":41.125,"v":12},{"d":41.375,"v":11},{"d":41.625,"v":11.5},{"d":41.875,"v":12.5},
{"d":42.125,"v":15},{"d":42.375,"v":14.5},{"d":42.625,"v":13.5},{"d":42.875,"v":13.5},
{"d":43.125,"v":14},{"d":43.375,"v":15.5},{"d":43.625,"v":15.5},{"d":43.875,"v":16.5},
{"d":44.125,"v":16.5},{"d":44.375,"v":17},{"d":44.625,"v":9},{"d":44.875,"v":7.5},
{"d":45.125,"v":8},{"d":45.375,"v":14.5},{"d":45.625,"v":15},{"d":45.875,"v":17},
{"d":46.125,"v":15.5},{"d":46.375,"v":14.5},{"d":46.625,"v":14},{"d":46.875,"v":14.5},
{"d":47.125,"v":10.5},{"d":47.375,"v":9},{"d":47.625,"v":6.5},{"d":47.875,"v":3},
{"d":48.125,"v":6.5},{"d":48.375,"v":9.5},{"d":48.625,"v":12.5},{"d":48.875,"v":13.5},
{"d":49.125,"v":12.5},{"d":49.375,"v":13},{"d":49.625,"v":9},{"d":49.875,"v":8},
{"d":50.125,"v":8.5},{"d":50.375,"v":6},{"d":50.625,"v":7},{"d":50.875,"v":11.5},
{"d":51.125,"v":10.5},{"d":51.375,"v":14},{"d":51.625,"v":13.5},{"d":51.875,"v":15.5},
{"d":52.125,"v":14.5},{"d":52.375,"v":13},{"d":52.625,"v":12},{"d":52.875,"v":5},
{"d":53.125,"v":7.5},{"d":53.375,"v":10},{"d":53.625,"v":8.5},{"d":53.875,"v":6.5},
{"d":54.125,"v":12.5},{"d":54.375,"v":15.5},{"d":54.625,"v":12},{"d":54.875,"v":13.5},
{"d":55.125,"v":9.5},{"d":55.375,"v":7.5},{"d":55.625,"v":5.5},{"d":55.875,"v":4.5},
{"d":56.125,"v":8},{"d":56.375,"v":9},{"d":56.625,"v":5.5},{"d":56.875,"v":8},
{"d":57.125,"v":11},{"d":57.375,"v":9.5},{"d":57.625,"v":10.5},{"d":57.875,"v":10.5},
{"d":58.125,"v":10.5},{"d":58.375,"v":9},{"d":58.625,"v":10},{"d":58.875,"v":8.5},
{"d":59.125,"v":9},{"d":59.375,"v":11.5},{"d":59.625,"v":8.5},{"d":59.875,"v":11},
{"d":60.125,"v":11},{"d":60.375,"v":5.5},{"d":60.625,"v":7},{"d":60.875,"v":14.5},
{"d":61.125,"v":16.5},{"d":61.375,"v":17.5},{"d":61.625,"v":14.5},{"d":61.875,"v":10},
{"d":62.125,"v":10.5},{"d":62.375,"v":6},{"d":62.625,"v":4.5},{"d":62.875,"v":9},
{"d":63.125,"v":13.5},{"d":63.375,"v":11},{"d":63.625,"v":10.5},{"d":63.875,"v":17},
{"d":64.125,"v":21.5},{"d":64.375,"v":19.5},{"d":64.625,"v":20},{"d":64.875,"v":20.5},
{"d":65.125,"v":20},{"d":65.375,"v":18.5},{"d":65.625,"v":18.5},{"d":65.875,"v":16.5},
{"d":66.125,"v":16},{"d":66.375,"v":12.5},{"d":66.625,"v":8.5},{"d":66.875,"v":9.5},
{"d":67.125,"v":8.5},{"d":67.375,"v":8},{"d":67.625,"v":6.5},{"d":67.875,"v":8},
{"d":68.125,"v":10},{"d":68.375,"v":13},{"d":68.625,"v":16},{"d":68.875,"v":16.5},
{"d":69.125,"v":12.5},{"d":69.375,"v":11.5},{"d":69.625,"v":7},{"d":69.875,"v":6.5},
{"d":70.125,"v":10},{"d":70.375,"v":7.5},{"d":70.625,"v":6.5},{"d":70.875,"v":6},
{"d":71.125,"v":4},{"d":71.375,"v":6},{"d":71.625,"v":10},{"d":71.875,"v":7.5},
{"d":72.125,"v":8},{"d":72.375,"v":6},{"d":72.625,"v":5},{"d":72.875,"v":6},
{"d":73.125,"v":11},{"d":73.375,"v":8.5},{"d":73.625,"v":7.5},{"d":73.875,"v":6},
{"d":74.125,"v":6.5},{"d":74.375,"v":9},{"d":74.625,"v":8},{"d":74.875,"v":7.5},
{"d":75.125,"v":9},{"d":75.375,"v":10},{"d":75.625,"v":4.5},{"d":75.875,"v":6.5},
{"d":76.125,"v":9},{"d":76.375,"v":15.5},{"d":76.625,"v":16},{"d":76.875,"v":15.5},
{"d":77.125,"v":14.5},{"d":77.375,"v":15},{"d":77.625,"v":12.5},{"d":77.875,"v":12.5},
{"d":78.125,"v":10},{"d":78.375,"v":4},{"d":78.625,"v":4.5},{"d":78.875,"v":5.5},
{"d":79.125,"v":9.5},{"d":79.375,"v":8.5},{"d":79.625,"v":8},{"d":79.875,"v":9},
{"d":80.125,"v":8.5},{"d":80.375,"v":6.5},{"d":80.625,"v":7.5},{"d":80.875,"v":14},
{"d":81.125,"v":9.5},{"d":81.375,"v":6},{"d":81.625,"v":12},{"d":81.875,"v":18},
{"d":82.125,"v":20},{"d":82.375,"v":20.5},{"d":82.625,"v":19},{"d":82.875,"v":18.5},
{"d":83.125,"v":18},{"d":83.375,"v":17},{"d":83.625,"v":16.5},{"d":83.875,"v":17},
{"d":84.125,"v":13},{"d":84.375,"v":14.5},{"d":84.625,"v":10},{"d":84.875,"v":8.5},
{"d":85.125,"v":7.5},{"d":85.375,"v":6.5},{"d":85.625,"v":4},{"d":85.875,"v":3},
{"d":86.125,"v":6},{"d":86.375,"v":6.5},{"d":86.625,"v":8},{"d":86.875,"v":9},
{"d":87.125,"v":9},{"d":87.375,"v":8.5},{"d":87.625,"v":6},{"d":87.875,"v":4.5},
{"d":88.125,"v":4.5},{"d":88.375,"v":6},{"d":88.625,"v":6},{"d":88.875,"v":5},
{"d":89.125,"v":2.5},{"d":89.375,"v":4},{"d":89.625,"v":4.5},{"d":89.875,"v":5},
{"d":90.125,"v":4.5},{"d":90.375,"v":7},{"d":90.625,"v":10.5},{"d":90.875,"v":9.5},
{"d":91.125,"v":9.5},{"d":91.375,"v":7.5},{"d":91.625,"v":8.5},{"d":91.875,"v":11.5},
{"d":92.125,"v":11},{"d":92.375,"v":9},{"d":92.625,"v":9.5},{"d":92.875,"v":10},
{"d":93.125,"v":11},{"d":93.375,"v":7.5},{"d":93.625,"v":5.5},{"d":93.875,"v":5.5},
{"d":94.125,"v":4},{"d":94.375,"v":6.5},{"d":94.625,"v":5},{"d":94.875,"v":6},
{"d":95.125,"v":6},{"d":95.375,"v":7},{"d":95.625,"v":9.5},{"d":95.875,"v":5},
{"d":96.125,"v":12},{"d":96.375,"v":16},{"d":96.625,"v":14},{"d":96.875,"v":13},
{"d":97.125,"v":8},{"d":97.375,"v":8.5},{"d":97.625,"v":9.5},{"d":97.875,"v":17.5},
{"d":98.125,"v":16},{"d":98.375,"v":15.5},{"d":98.625,"v":11.5},{"d":98.875,"v":8},
{"d":99.125,"v":12.5},{"d":99.375,"v":7.5},{"d":99.625,"v":6},{"d":99.875,"v":6.5},
{"d":100.125,"v":6.5},{"d":100.375,"v":5.5},{"d":100.625,"v":4.5},{"d":100.875,"v":3.5},
{"d":101.125,"v":3.5},{"d":101.375,"v":3},{"d":101.625,"v":4},{"d":101.875,"v":8.5},
{"d":102.125,"v":6.5},{"d":102.375,"v":6},{"d":102.625,"v":7.5},{"d":102.875,"v":8},
{"d":103.125,"v":9},{"d":103.375,"v":4.5},{"d":103.625,"v":5},{"d":103.875,"v":5.5},
{"d":104.125,"v":12},{"d":104.375,"v":11.5},{"d":104.625,"v":9.5},{"d":104.875,"v":7.5},
{"d":105.125,"v":7.5},{"d":105.375,"v":7},{"d":105.625,"v":5.5},{"d":105.875,"v":3.5},
{"d":106.125,"v":5},{"d":106.375,"v":8.5},{"d":106.625,"v":4.5},{"d":106.875,"v":9},
{"d":107.125,"v":12.5},{"d":107.375,"v":13.5},{"d":107.625,"v":13.5},{"d":107.875,"v":11.5},
{"d":108.125,"v":6.5},{"d":108.375,"v":7.5},{"d":108.625,"v":8.5},{"d":108.875,"v":10},
{"d":109.125,"v":9},{"d":109.375,"v":7},{"d":109.625,"v":5},{"d":109.875,"v":4.5},
{"d":110.125,"v":4.5},{"d":110.375,"v":5.5},{"d":110.625,"v":4},{"d":110.875,"v":7},
{"d":111.125,"v":8.5},{"d":111.375,"v":9},{"d":111.625,"v":6.5},{"d":111.875,"v":5.5},
{"d":112.125,"v":6},{"d":112.375,"v":5.5},{"d":112.625,"v":5.5},{"d":112.875,"v":6.5},
{"d":113.125,"v":7},{"d":113.375,"v":7.5},{"d":113.625,"v":7},{"d":113.875,"v":6.5},
{"d":114.125,"v":4.5},{"d":114.375,"v":8.5},{"d":114.625,"v":17.5},{"d":114.875,"v":18.5},
{"d":115.125,"v":15},{"d":115.375,"v":8},{"d":115.625,"v":6.5},{"d":115.875,"v":8.5},
{"d":116.125,"v":7.5},{"d":116.375,"v":6.5},{"d":116.625,"v":7},{"d":116.875,"v":8},
{"d":117.125,"v":5},{"d":117.375,"v":6},{"d":117.625,"v":5.5},{"d":117.875,"v":9.5},
{"d":118.125,"v":14.5},{"d":118.375,"v":15},{"d":118.625,"v":15.5},{"d":118.875,"v":14},
{"d":119.125,"v":14},{"d":119.375,"v":15},{"d":119.625,"v":14.5},{"d":119.875,"v":7.5},
{"d":120.125,"v":5.5},{"d":120.375,"v":4.5},{"d":120.625,"v":5.5},{"d":120.875,"v":6.5},
{"d":121.125,"v":6.5},{"d":121.375,"v":9.5},{"d":121.625,"v":14},{"d":121.875,"v":14.5},
{"d":122.125,"v":12.5},{"d":122.375,"v":13},{"d":122.625,"v":11.5},{"d":122.875,"v":8},
{"d":123.125,"v":8.5},{"d":123.375,"v":6.5},{"d":123.625,"v":5},{"d":123.875,"v":3.5},
{"d":124.125,"v":4},{"d":124.375,"v":8.5},{"d":124.625,"v":8},{"d":124.875,"v":7},
{"d":125.125,"v":7},{"d":125.375,"v":8.5},{"d":125.625,"v":9},{"d":125.875,"v":11},
{"d":126.125,"v":16},{"d":126.375,"v":18},{"d":126.625,"v":13},{"d":126.875,"v":7},
{"d":127.125,"v":3.5},{"d":127.375,"v":7},{"d":127.625,"v":8.5},{"d":127.875,"v":4},
{"d":128.125,"v":2},{"d":128.375,"v":3},{"d":128.625,"v":3},{"d":128.875,"v":4.5},
{"d":129.125,"v":5.5},{"d":129.375,"v":6.5},{"d":129.625,"v":7.5},{"d":129.875,"v":6},
{"d":130.125,"v":6},{"d":130.375,"v":5.5},{"d":130.625,"v":3.5},{"d":130.875,"v":7},
{"d":131.125,"v":5.5},{"d":131.375,"v":4.5},{"d":131.625,"v":5},{"d":131.875,"v":6},
{"d":132.125,"v":10.5},{"d":132.375,"v":11},{"d":132.625,"v":12},{"d":132.875,"v":11.5},
{"d":133.125,"v":14},{"d":133.375,"v":14.5},{"d":133.625,"v":14},{"d":133.875,"v":10.5},
{"d":134.125,"v":3.5},{"d":134.375,"v":6},{"d":134.625,"v":6.5},{"d":134.875,"v":6},
{"d":135.125,"v":6},{"d":135.375,"v":8.5},{"d":135.625,"v":9.5},{"d":135.875,"v":8.5},
{"d":136.125,"v":7.5},{"d":136.375,"v":7},{"d":136.625,"v":5},{"d":136.875,"v":2},
{"d":137.125,"v":6},{"d":137.375,"v":9},{"d":137.625,"v":7.5},{"d":137.875,"v":5.5},
{"d":138.125,"v":5},{"d":138.375,"v":4},{"d":138.625,"v":6.5},{"d":138.875,"v":7},
{"d":139.125,"v":5.5},{"d":139.375,"v":8.5},{"d":139.625,"v":6},{"d":139.875,"v":4},
{"d":140.125,"v":5},{"d":140.375,"v":6},{"d":140.625,"v":6.5},{"d":140.875,"v":8.5},
{"d":141.125,"v":8.5},{"d":141.375,"v":7.5},{"d":141.625,"v":5.5},{"d":141.875,"v":5},
{"d":142.125,"v":5},{"d":142.375,"v":4.5},{"d":142.625,"v":5.5},{"d":142.875,"v":6},
{"d":143.125,"v":9},{"d":143.375,"v":6.5},{"d":143.625,"v":4.5},{"d":143.875,"v":5},
{"d":144.125,"v":4.5},{"d":144.375,"v":4},{"d":144.625,"v":4.5},{"d":144.875,"v":5.5},
{"d":145.125,"v":6.5},{"d":145.375,"v":12.5},{"d":145.625,"v":12},{"d":145.875,"v":10},
{"d":146.125,"v":9.5},{"d":146.375,"v":9},{"d":146.625,"v":7},{"d":146.875,"v":8.5},
{"d":147.125,"v":9},{"d":147.375,"v":7.5},{"d":147.625,"v":6},{"d":147.875,"v":2.5},
{"d":148.125,"v":5.5},{"d":148.375,"v":12},{"d":148.625,"v":9.5},{"d":148.875,"v":4},
{"d":149.125,"v":5},{"d":149.375,"v":4.5},{"d":149.625,"v":4},{"d":149.875,"v":5},
{"d":150.125,"v":4},{"d":150.375,"v":3},{"d":150.625,"v":4.5},{"d":150.875,"v":5.5},
{"d":151.125,"v":6},{"d":151.375,"v":5},{"d":151.625,"v":2},{"d":151.875,"v":2},
{"d":152.125,"v":2.5},{"d":152.375,"v":5},{"d":152.625,"v":8},{"d":152.875,"v":7},
{"d":153.125,"v":7},{"d":153.375,"v":9.5},{"d":153.625,"v":11.5},{"d":153.875,"v":7},
{"d":154.125,"v":4.5},{"d":154.375,"v":9},{"d":154.625,"v":8.5},{"d":154.875,"v":9.5},
{"d":155.125,"v":10},{"d":155.375,"v":12.5},{"d":155.625,"v":15},{"d":155.875,"v":11},
{"d":156.125,"v":8},{"d":156.375,"v":8},{"d":156.625,"v":6.5},{"d":156.875,"v":7},
{"d":157.125,"v":9},{"d":157.375,"v":8},{"d":157.625,"v":8.5},{"d":157.875,"v":9.5},
{"d":158.125,"v":13.5},{"d":158.375,"v":17.5},{"d":158.625,"v":19},{"d":158.875,"v":20.5},
{"d":159.125,"v":18},{"d":159.375,"v":6.5},{"d":159.625,"v":4},{"d":159.875,"v":5},
{"d":160.125,"v":6},{"d":160.375,"v":5.5},{"d":160.625,"v":6},{"d":160.875,"v":7.5},
{"d":161.125,"v":7.5},{"d":161.375,"v":5},{"d":161.625,"v":3.5},{"d":161.875,"v":4.5},
{"d":162.125,"v":5},{"d":162.375,"v":4.5},{"d":162.625,"v":5},{"d":162.875,"v":6.5},
{"d":163.125,"v":5.5},{"d":163.375,"v":7.5},{"d":163.625,"v":5.5},{"d":163.875,"v":5},
{"d":164.125,"v":6},{"d":164.375,"v":7},{"d":164.625,"v":6.5},{"d":164.875,"v":6},
{"d":165.125,"v":4.5},{"d":165.375,"v":3},{"d":165.625,"v":3.5},{"d":165.875,"v":5},
{"d":166.125,"v":5.5},{"d":166.375,"v":7},{"d":166.625,"v":9},{"d":166.875,"v":5},
{"d":167.125,"v":6},{"d":167.375,"v":13},{"d":167.625,"v":16.5},{"d":167.875,"v":12},
{"d":168.125,"v":10.5},{"d":168.375,"v":9.5},{"d":168.625,"v":8.5},{"d":168.875,"v":7.5},
{"d":169.125,"v":6.5},{"d":169.375,"v":6},{"d":169.625,"v":5.5},{"d":169.875,"v":6},
{"d":170.125,"v":3},{"d":170.375,"v":3.5},{"d":170.625,"v":4.5},{"d":170.875,"v":5},
{"d":171.125,"v":5.5},{"d":171.375,"v":6.5},{"d":171.625,"v":6},{"d":171.875,"v":5.5},
{"d":172.125,"v":6.5},{"d":172.375,"v":7},{"d":172.625,"v":7.5},{"d":172.875,"v":8},
{"d":173.125,"v":7.5},{"d":173.375,"v":5},{"d":173.625,"v":4.5},{"d":173.875,"v":3.5},
{"d":174.125,"v":4},{"d":174.375,"v":4},{"d":174.625,"v":4.5},{"d":174.875,"v":4.5},
{"d":175.125,"v":5},{"d":175.375,"v":4.5},{"d":175.625,"v":3.5},{"d":175.875,"v":4},
{"d":176.125,"v":5},{"d":176.375,"v":7},{"d":176.625,"v":8},{"d":176.875,"v":6.5},
{"d":177.125,"v":5.5},{"d":177.375,"v":5},{"d":177.625,"v":6},{"d":177.875,"v":6.5},
{"d":178.125,"v":4.5},{"d":178.375,"v":5.5},{"d":178.625,"v":7.5},{"d":178.875,"v":8.5},
{"d":179.125,"v":7.5},{"d":179.375,"v":7},{"d":179.625,"v":6},{"d":179.875,"v":5.5},
{"d":180.125,"v":4.5},{"d":180.375,"v":4},{"d":180.625,"v":5},{"d":180.875,"v":6},
{"d":181.125,"v":5},{"d":181.375,"v":5},{"d":181.625,"v":6.5},{"d":181.875,"v":6},
{"d":182.125,"v":4.5},{"d":182.375,"v":5.5},{"d":182.625,"v":6},{"d":182.875,"v":3.5},
{"d":183.125,"v":4},{"d":183.375,"v":7},{"d":183.625,"v":6.5},{"d":183.875,"v":6},
{"d":184.125,"v":6.5},{"d":184.375,"v":7},{"d":184.625,"v":7},{"d":184.875,"v":6},
{"d":185.125,"v":5},{"d":185.375,"v":5.5},{"d":185.625,"v":5.5},{"d":185.875,"v":5},
{"d":186.125,"v":7.5},{"d":186.375,"v":10.5},{"d":186.625,"v":9.5},{"d":186.875,"v":11},
{"d":187.125,"v":16.5},{"d":187.375,"v":14.5},{"d":187.625,"v":9},{"d":187.875,"v":5},
{"d":188.125,"v":6},{"d":188.375,"v":5},{"d":188.625,"v":5.5},{"d":188.875,"v":6},
{"d":189.125,"v":5},{"d":189.375,"v":4.5},{"d":189.625,"v":5.5},{"d":189.875,"v":6.5},
{"d":190.125,"v":6},{"d":190.375,"v":5.5},{"d":190.625,"v":6},{"d":190.875,"v":6.5},
{"d":191.125,"v":5.5},{"d":191.375,"v":4.5},{"d":191.625,"v":4.5},{"d":191.875,"v":4.5},
{"d":192.125,"v":4.5},{"d":192.375,"v":3.5},{"d":192.625,"v":3},{"d":192.875,"v":8.5},
{"d":193.125,"v":9.5},{"d":193.375,"v":7.5},{"d":193.625,"v":6.5},{"d":193.875,"v":3.5},
{"d":194.125,"v":4},{"d":194.375,"v":5},{"d":194.625,"v":5.5},{"d":194.875,"v":9},
{"d":195.125,"v":7.5},{"d":195.375,"v":6},{"d":195.625,"v":4.5},{"d":195.875,"v":4},
{"d":196.125,"v":3.5},{"d":196.375,"v":3},{"d":196.625,"v":3},{"d":196.875,"v":3},
{"d":197.125,"v":2.5},{"d":197.375,"v":5},{"d":197.625,"v":7},{"d":197.875,"v":7.5},
{"d":198.125,"v":7},{"d":198.375,"v":6.5},{"d":198.625,"v":6},{"d":198.875,"v":5.5},
{"d":199.125,"v":5},{"d":199.375,"v":4.5},{"d":199.625,"v":4},{"d":199.875,"v":3.5},
{"d":200.125,"v":3},{"d":200.375,"v":5},{"d":200.625,"v":6},{"d":200.825,"v":7},{"d":200.95,"v":8}
]},
"mark":{"type":"line","color":"#0072BD","strokeWidth":1.8},
"encoding":{
"x":{"field":"d","type":"quantitative","scale":{"domain":[0,201],"nice":false,"zero":false},
"axis":{"orient":"bottom","values":[0,33.5,67,100.5,134,167.5,201],"title":null,"labelAlign":"left","labelOffset":-46,"labelBaseline":"top","labelPadding":39,"labelLineHeight":27,
"labelExpr":"[utcFormat(utc(2024,11,15)+datum.value*86400000,'%d %b'),'\u2800\u2800\u2800'+utcFormat(utc(2024,11,15)+datum.value*86400000,'%Y')]"}},
"y":{"field":"v","type":"quantitative","scale":{"domain":[0,30],"nice":false,"zero":true},
"axis":{"orient":"left","values":[0,5,10,15,20,25,30],"title":"m/s","labelPadding":38,"titlePadding":6}}
}},
{"data":{"values":[{}]},
"mark":{"type":"rule","opacity":0},
"encoding":{"y":{"datum":0,"type":"quantitative","scale":{"domain":[0,67.108],"nice":false},
"axis":{"orient":"right","values":[0,10,20,30,40,50,60],"title":"mph","labelPadding":35,"titlePadding":13,"titleAngle":270,"titleBaseline":"top"}}}}
]
}
